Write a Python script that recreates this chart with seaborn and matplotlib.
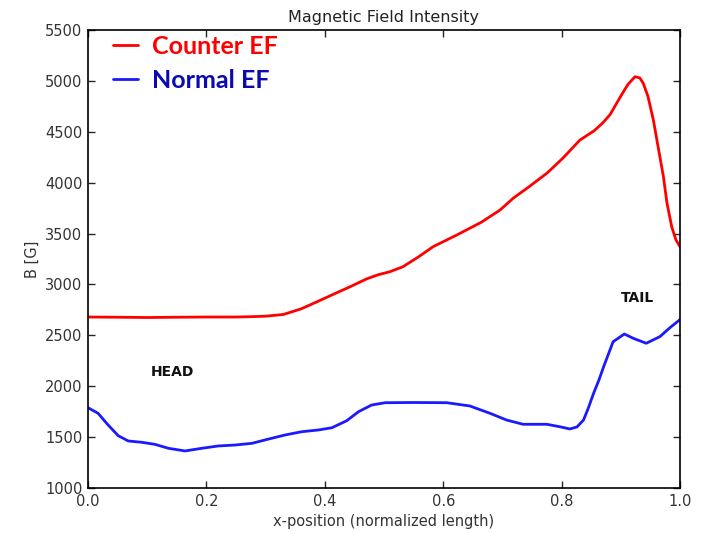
import matplotlib
matplotlib.use("Agg")
import matplotlib.pyplot as plt
import seaborn as sns
import pandas as pd

counter_x = [0.0, 0.05, 0.1, 0.15, 0.2, 0.25, 0.274, 0.30, 0.33, 0.36, 0.387, 0.415, 0.443, 0.47,
             0.49, 0.51, 0.532, 0.558, 0.583, 0.623, 0.664, 0.696, 0.718, 0.745, 0.775, 0.802,
             0.831, 0.855, 0.870, 0.882, 0.892, 0.902, 0.912, 0.924, 0.932, 0.938, 0.946, 0.955,
             0.963, 0.972, 0.978, 0.986, 0.993, 1.0]
counter_y = [2680, 2678, 2675, 2678, 2680, 2680, 2683, 2688, 2705, 2760, 2830, 2905, 2978, 3053,
             3095, 3125, 3174, 3270, 3371, 3486, 3610, 3731, 3846, 3960, 4092, 4240,
             4419, 4510, 4590, 4670, 4770, 4870, 4965, 5041, 5030, 4976, 4845, 4616,
             4353, 4059, 3800, 3567, 3440, 3370]

normal_x = [0.0, 0.017, 0.034, 0.051, 0.068, 0.091, 0.113, 0.136, 0.164, 0.192, 0.22, 0.248, 0.277,
            0.305, 0.333, 0.361, 0.389, 0.412, 0.437, 0.457, 0.479, 0.502, 0.55, 0.606, 0.645,
            0.679, 0.707, 0.735, 0.775, 0.797, 0.814, 0.826, 0.837, 0.845, 0.854, 0.863, 0.871,
            0.887, 0.906, 0.921, 0.943, 0.966, 0.982, 1.0]
normal_y = [1789, 1734, 1619, 1514, 1462, 1449, 1429, 1390, 1364, 1390, 1413, 1422, 1439,
            1481, 1521, 1553, 1570, 1592, 1661, 1750, 1815, 1838, 1840, 1838, 1806,
            1734, 1668, 1626, 1626, 1602, 1580, 1600, 1668, 1783, 1930, 2060, 2192,
            2437, 2513, 2471, 2422, 2487, 2570, 2655]

series_names = ["Counter EF", "Normal EF"]
line_colors = ["#ff0000", "#1a1aff"]
legend_text_colors = ["#ff0000", "#0a0ab0"]

df = pd.concat([
    pd.DataFrame({"x": counter_x, "B": counter_y, "series": series_names[0]}),
    pd.DataFrame({"x": normal_x, "B": normal_y, "series": series_names[1]}),
])

sns.set_style("ticks", {"xtick.direction": "in", "ytick.direction": "in",
                        "axes.edgecolor": "black"})
plt.rcParams["font.family"] = ["DejaVu Sans"]

fig = plt.figure(figsize=(7.06, 5.33), dpi=100)
ax = fig.add_axes([88/706, 1-488/533, 592/706, 458/533])

sns.lineplot(data=df, x="x", y="B", hue="series", palette=dict(zip(series_names, line_colors)),
             linewidth=2.0, ax=ax, legend=False, sort=True)
for ln in ax.get_lines():
    ln.set_solid_joinstyle("round")
    ln.set_solid_capstyle("round")

ax.set_xlim(0, 1)
ax.set_ylim(1000, 5500)
ax.set_xticks([0.0, 0.2, 0.4, 0.6, 0.8, 1.0])
ax.set_yticks(range(1000, 5501, 500))
ax.tick_params(direction="in", length=5, width=1, top=True, right=True,
               labelsize=10.5, labelcolor="#333333", pad=4)
for s in ax.spines.values():
    s.set_visible(True)
    s.set_linewidth(1.2)
    s.set_color("black")

ax.set_title("Magnetic Field Intensity", fontsize=11.5, color="#222222", pad=6)
ax.set_xlabel("x-position (normalized length)", fontsize=10.5, color="#333333", labelpad=4)
ax.set_ylabel("B [G]", fontsize=10.5, color="#333333", labelpad=4)

ax.text(0.142, 2140, "HEAD", fontsize=10, fontweight="bold", ha="center", va="center", color="#111111")
ax.text(0.929, 2867, "TAIL", fontsize=10, fontweight="bold", ha="center", va="center", color="#111111")

handles = [plt.Line2D([], [], color=c, linewidth=2) for c in line_colors]
leg = ax.legend(handles, series_names, loc="upper left", frameon=False,
                prop={"family": "Lato", "weight": "bold", "size": 18},
                handlelength=1.0, handletextpad=0.55, labelspacing=0.45,
                borderaxespad=0.0, bbox_to_anchor=(0.025, 1.012))
for t, c in zip(leg.get_texts(), legend_text_colors):
    t.set_color(c)

fig.savefig("out.png", dpi=100)
